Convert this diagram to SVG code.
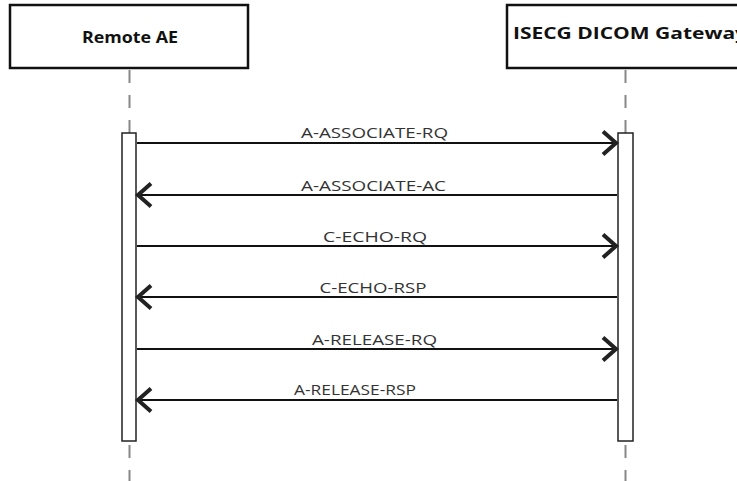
<svg xmlns="http://www.w3.org/2000/svg" width="737" height="481" viewBox="0 0 737 481">
<defs>
<style>
.box{fill:#fff;stroke:#111;stroke-width:2.5}
.hd{font-family:"Open Sans","Liberation Sans",sans-serif;font-weight:bold;font-size:16px;fill:#111}
.life{stroke:#888;stroke-width:2;stroke-dasharray:13 12;fill:none}
.act{fill:#fff;stroke:#222;stroke-width:1.5}
.msg{stroke:#111;stroke-width:2.2;fill:none}
.lbl{font-family:"Open Sans","Liberation Sans",sans-serif;font-size:14px;fill:#333}
</style>
<marker id="ah" markerUnits="userSpaceOnUse" markerWidth="22" markerHeight="30" refX="17" refY="13" orient="auto">
<path d="M3,1.5 L16,13 L3,24.5" fill="none" stroke="#222" stroke-width="4" stroke-linejoin="miter"/>
</marker>
</defs>
<rect width="737" height="481" fill="#fff"/>
<g id="remote-ae">
<line class="life" x1="129.5" y1="70" x2="129.5" y2="481"/>
<rect class="box" x="10" y="5" width="238" height="63"/>
<text class="hd" x="82" y="43" textLength="96" lengthAdjust="spacingAndGlyphs">Remote AE</text>
<rect class="act" x="122" y="133" width="14" height="308"/>
</g>
<g id="gateway">
<line class="life" x1="625.5" y1="70" x2="625.5" y2="481"/>
<rect class="box" x="507" y="5" width="240" height="63"/>
<text class="hd" x="513" y="39" textLength="234" lengthAdjust="spacingAndGlyphs">ISECG DICOM Gateway</text>
<rect class="act" x="618" y="133" width="15" height="308"/>
</g>
<g id="connectors">
<line class="msg" x1="137" y1="143" x2="617" y2="143" marker-end="url(#ah)"/>
<line class="msg" x1="617" y1="195" x2="137" y2="195" marker-end="url(#ah)"/>
<line class="msg" x1="137" y1="246" x2="617" y2="246" marker-end="url(#ah)"/>
<line class="msg" x1="617" y1="297" x2="137" y2="297" marker-end="url(#ah)"/>
<line class="msg" x1="137" y1="349" x2="617" y2="349" marker-end="url(#ah)"/>
<line class="msg" x1="617" y1="400" x2="137" y2="400" marker-end="url(#ah)"/>
<text class="lbl" x="301" y="138" textLength="147" lengthAdjust="spacingAndGlyphs">A-ASSOCIATE-RQ</text>
<text class="lbl" x="301" y="191" textLength="145" lengthAdjust="spacingAndGlyphs">A-ASSOCIATE-AC</text>
<text class="lbl" x="323" y="242" textLength="104" lengthAdjust="spacingAndGlyphs">C-ECHO-RQ</text>
<text class="lbl" x="319.5" y="293" textLength="107" lengthAdjust="spacingAndGlyphs">C-ECHO-RSP</text>
<text class="lbl" x="312" y="345" textLength="125" lengthAdjust="spacingAndGlyphs">A-RELEASE-RQ</text>
<text class="lbl" x="294" y="395" textLength="122" lengthAdjust="spacingAndGlyphs">A-RELEASE-RSP</text>
</g>
</svg>
